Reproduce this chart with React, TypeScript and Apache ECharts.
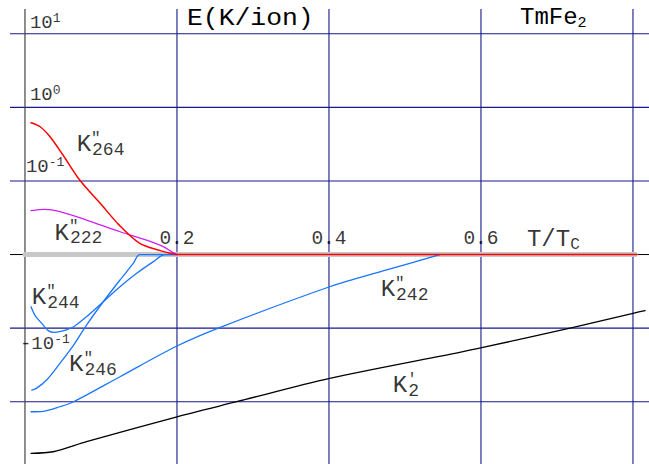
import React, { useEffect, useRef } from "react";
import * as echarts from "echarts";

// ---------- data (energies in K/ion) ----------
const k264T = [0.008, 0.020, 0.033, 0.050, 0.072, 0.099, 0.124, 0.151, 0.178, 0.191, 0.200, 0.805];
const k264E = [0.618, 0.545, 0.398, 0.225, 0.103, 0.0497, 0.0251, 0.0142, 0.0113, 0.0104, 0.01, 0.01];

const k222T = [0.008, 0.026, 0.046, 0.081, 0.125, 0.160, 0.182, 0.195, 0.201];
const k222E = [0.0394, 0.0411, 0.0382, 0.0294, 0.0204, 0.0157, 0.0128, 0.0106, 0.01];

const k244T = [0.008, 0.013, 0.022, 0.031, 0.039, 0.050, 0.064, 0.081, 0.103, 0.125, 0.147, 0.169, 0.184, 0.200];
const k244E = [-0.0512, -0.0664, -0.0861, -0.109, -0.114, -0.109, -0.0957, -0.070, -0.0438, -0.0274, -0.0180, -0.0125, -0.01, -0.01];

const k246T = [0.009, 0.015, 0.0285, 0.046, 0.064, 0.081, 0.103, 0.125, 0.1425, 0.151, 0.200];
const k246E = [-0.693, -0.658, -0.507, -0.301, -0.170, -0.0908, -0.0438, -0.0222, -0.0132, -0.01, -0.01];

const k242T = [0.008, 0.024, 0.046, 0.064, 0.125, 0.200, 0.257, 0.401, 0.476, 0.546];
const k242E = [-1.368, -1.35, -1.17, -1.0, -0.457, -0.175, -0.0975, -0.0274, -0.0162, -0.01];

const k2T = [0.008, 0.037, 0.081, 0.200, 0.2785, 0.401, 0.572, 0.601, 0.7215, 0.800, 0.816];
const k2E = [-5.02, -4.78, -3.49, -1.60, -1.0, -0.481, -0.213, -0.1845, -0.0975, -0.063, -0.058];

const baselineT = [0, 0.803];
const baselineE = [0, 0];

// grid lines (T/Tc values, energies in K/ion)
const xGridValues = [0.2, 0.4, 0.6, 0.8];
const yGridValues = [10, 1, 0.1, -0.1, -1];

// tick labels
const yTickValues = [10, 1, 0.1, -0.1];
const yTickBase = ["10", "10", "10", "-10"];
const yTickExp = ["1", "0", "-1", "-1"];
const xTickValues = [0.2, 0.4, 0.6];
const xTickLabels = ["0.2", "0.4", "0.6"];
const xAxisName = ["T/T", "C"];
const titleText = "E(K/ion)";
const compound = ["TmFe", "2"];

// curve labels
const curveSubs = ["264", "222", "244", "246", "242", "2"];
const curvePrimes = ['"', '"', '"', '"', '"', "'"];

// ---------- helpers ----------
const FONT = '"Liberation Mono", "DejaVu Sans Mono", monospace';
const GRID_COLOR = "#18188e";
const X_MIN = -0.0197;
const X_MAX = 0.8211;
const Y_MIN = -2.846;
const Y_MAX = 3.336;

// symmetric log: decades above 10^-2, zero for |E| <= 0.01
function toDecade(v: number): number {
  if (v === 0) return 0;
  const d = Math.log10(Math.abs(v)) + 2;
  return Math.sign(v) * Math.max(0, d);
}

function curve(name: string, xs: number[], es: number[], color: string, width = 1.3, z = 2) {
  return {
    type: "line",
    name,
    data: xs.map((x, i) => [x, toDecade(es[i])]),
    symbol: "none",
    smooth: 0.3,
    silent: true,
    z,
    lineStyle: { color, width, cap: "round", join: "round" },
  };
}

function straight(data: number[][], color: string, width: number, z: number, cap = "butt") {
  return {
    type: "line",
    data,
    symbol: "none",
    silent: true,
    z,
    lineStyle: { color, width, cap },
  };
}

export default function App() {
  const ref = useRef<HTMLDivElement>(null);

  useEffect(() => {
    if (!ref.current) return;
    const chart = echarts.init(ref.current, undefined, { renderer: "svg" });

    // label anchor positions (T/Tc, decade coordinate) – layout only
    const curveLabelAnchors = [
      [0.068, 1.49],
      [0.039, 0.29],
      [0.009, -0.59],
      [0.058, -1.5],
      [0.468, -0.48],
      [0.484, -1.78],
    ];
    const yLabelOffsets = [
      [5, -11],
      [5, -12],
      [1, -13.5],
      [-5, 15.5],
    ];

    const gridSeries = [
      ...xGridValues.map((x) => straight([[x, Y_MIN], [x, Y_MAX]], GRID_COLOR, 1.1, 0)),
      ...yGridValues.map((v) => straight([[X_MIN, toDecade(v)], [X_MAX, toDecade(v)]], GRID_COLOR, 1.1, 0)),
    ];

    const option: any = {
      animation: false,
      backgroundColor: "#ffffff",
      grid: { left: 10, right: 0, top: 9, bottom: 0 },
      xAxis: {
        type: "value",
        min: X_MIN,
        max: X_MAX,
        axisLine: { show: false },
        axisTick: { show: false },
        axisLabel: { show: false },
        splitLine: { show: false },
      },
      yAxis: {
        type: "value",
        min: Y_MIN,
        max: Y_MAX,
        axisLine: { show: false },
        axisTick: { show: false },
        axisLabel: { show: false },
        splitLine: { show: false },
      },
      graphic: [
        {
          type: "text",
          x: 187,
          y: 18.5,
          scaleX: 1.1,
          style: {
            text: titleText,
            fontFamily: FONT,
            fontSize: 24,
            fill: "#000",
            verticalAlign: "middle",
          },
        },
        {
          type: "text",
          x: 520,
          y: 17.5,
          style: {
            text: `{b|${compound[0]}}{s|${compound[1]}}`,
            fontFamily: FONT,
            fill: "#000",
            verticalAlign: "middle",
            rich: {
              b: { fontFamily: FONT, fontSize: 24, lineHeight: 26, verticalAlign: "middle" },
              s: { fontFamily: FONT, fontSize: 15, lineHeight: 15, verticalAlign: "bottom" },
            },
          },
        },
      ],
      series: [
        ...gridSeries,
        // axis lines
        straight([[X_MIN, 0], [X_MAX, 0]], "#000", 1, 1),
        straight([[0, Y_MIN], [0, Y_MAX]], "#444", 1.2, 1),
        // gray zero band
        straight(baselineT.map((x, i) => [x, toDecade(baselineE[i])]), "#c8c8c8", 5, 1, "round"),
        curve("K244", k244T, k244E, "#1a75ff"),
        curve("K246", k246T, k246E, "#1a75ff"),
        curve("K242", k242T, k242E, "#1a75ff"),
        curve("K2", k2T, k2E, "#000000"),
        curve("K222", k222T, k222E, "#cc22ee"),
        curve("K264", k264T, k264E, "#ff0000", 1.5, 3),
        // curve labels
        {
          type: "scatter",
          symbolSize: 0,
          silent: true,
          z: 10,
          data: curveLabelAnchors.map((p, i) => ({
            value: p,
            label: { formatter: `{k|K}{p|${curvePrimes[i]}}{s|${curveSubs[i]}}` },
          })),
          label: {
            show: true,
            position: "right",
            distance: 0,
            color: "#000",
            fontFamily: FONT,
            rich: {
              k: { fontFamily: FONT, fontSize: 24, lineHeight: 28, verticalAlign: "middle", color: "#000" },
              p: { fontFamily: FONT, fontSize: 16, lineHeight: 16, width: 1, verticalAlign: "top", color: "#000" },
              s: { fontFamily: FONT, fontSize: 18, lineHeight: 18, verticalAlign: "bottom", color: "#000" },
            },
          },
        },
        // y tick labels
        {
          type: "scatter",
          symbolSize: 0,
          silent: true,
          z: 10,
          data: yTickValues.map((v, i) => ({
            value: [0, toDecade(v)],
            label: {
              formatter: `{b|${yTickBase[i]}}{e|${yTickExp[i]}}`,
              offset: yLabelOffsets[i],
            },
          })),
          label: {
            show: true,
            position: "right",
            distance: 0,
            color: "#000",
            fontFamily: FONT,
            rich: {
              b: { fontFamily: FONT, fontSize: 19, lineHeight: 22, verticalAlign: "middle", color: "#000" },
              e: { fontFamily: FONT, fontSize: 13, lineHeight: 12, verticalAlign: "top", color: "#000" },
            },
          },
        },
        // x tick labels
        {
          type: "scatter",
          symbolSize: 0,
          silent: true,
          z: 10,
          data: xTickValues.map((v, i) => ({
            value: [v, 0],
            label: { formatter: xTickLabels[i] },
          })),
          label: {
            show: true,
            position: "inside",
            offset: [0, -15.5],
            color: "#000",
            fontFamily: FONT,
            fontSize: 19.5,
          },
        },
        // x axis name
        {
          type: "scatter",
          symbolSize: 0,
          silent: true,
          z: 10,
          data: [{ value: [0.6605, 0], label: { formatter: `{b|${xAxisName[0]}}{c|${xAxisName[1]}}` } }],
          label: {
            show: true,
            position: "right",
            distance: 0,
            offset: [0, -15],
            color: "#000",
            fontFamily: FONT,
            rich: {
              b: { fontFamily: FONT, fontSize: 24, lineHeight: 26, verticalAlign: "middle", color: "#000" },
              c: { fontFamily: FONT, fontSize: 16, lineHeight: 16, verticalAlign: "bottom", color: "#000" },
            },
          },
        },
      ],
    };

    chart.setOption(option);
    return () => chart.dispose();
  }, []);

  return (
    <div
      ref={ref}
      style={{ position: "fixed", left: 0, top: 0, width: 649, height: 464, background: "#fff" }}
    />
  );
}
